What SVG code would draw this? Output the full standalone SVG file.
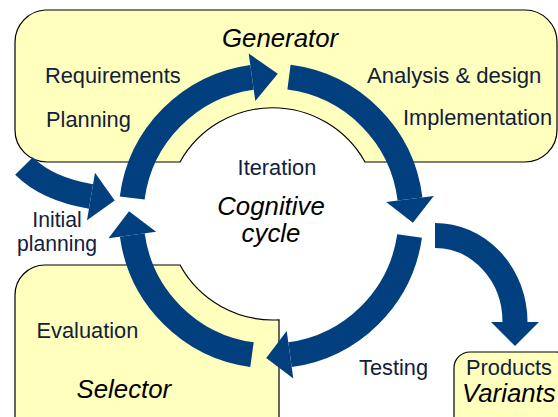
<svg xmlns="http://www.w3.org/2000/svg" width="558" height="417" viewBox="0 0 558 417">
<style>
.box{fill:#FFFFBE;stroke:#000;stroke-width:1.2}
.shaft{fill:none;stroke:#023F7F;stroke-width:25;stroke-linecap:butt}
.head{fill:#023F7F}
.lbl{font-family:"Liberation Sans",Arial,sans-serif;font-size:21.8px;fill:#12203A}
.ttl{font-family:"Liberation Sans",Arial,sans-serif;font-size:25.8px;font-style:italic;fill:#000}
</style>
<rect width="558" height="417" fill="#fff"/>
<g id="generator">
<path class="box" d="M45,10 H525 A32,32 0 0 1 557,42 V130 A32,32 0 0 1 525,162 H365 A106,106 0 0 0 180,162 H47 A32,32 0 0 1 15,130 V42 A32,32 0 0 1 45,10 Z"/>
<text class="ttl" x="222" y="46.5">Generator</text>
<text class="lbl" x="45" y="83">Requirements</text>
<text class="lbl" x="46" y="126.5">Planning</text>
<text class="lbl" x="367" y="82.5" style="font-size:22.1px">Analysis &amp; design</text>
<text class="lbl" x="403" y="125">Implementation</text>
</g>
<g id="selector">
<path class="box" d="M45,265 H180 A106,106 0 0 0 279,319.8 V430 H15 V295 A30,30 0 0 1 45,265 Z"/>
<text class="lbl" x="36.5" y="338">Evaluation</text>
<text class="ttl" x="76.5" y="398">Selector</text>
</g>
<g id="products">
<rect class="box" x="454" y="352" width="118" height="80" rx="16" ry="16"/>
<text class="lbl" x="466" y="375">Products</text>
<text class="ttl" x="462" y="402">Variants</text>
</g>
<g id="cycle">
<text class="lbl" x="277" y="175" text-anchor="middle">Iteration</text>
<text class="ttl" x="271" text-anchor="middle"><tspan x="271" y="215">Cognitive</tspan><tspan x="271" y="241.5">cycle</tspan></text>
</g>
<g id="initial-planning">
<text class="lbl" x="57" y="226.8" text-anchor="middle" style="font-size:21.2px">Initial</text>
<text class="lbl" x="57" y="250.8" text-anchor="middle" style="font-size:21.2px">planning</text>
</g>
<g id="testing">
<text class="lbl" x="359" y="375">Testing</text>
</g>
<g id="connectors">
<path class="shaft" d="M132.2,198 A140,140 0 0 1 252,77.3"/>
<polygon class="head" points="255.3,101.1 277.8,73.8 248.7,53.5"/>
<path class="shaft" d="M289,77.2 A140,140 0 0 1 410,199"/>
<polygon class="head" points="433.8,196.1 412.9,222.8 386.2,201.9"/>
<path class="shaft" d="M409.6,236 A140,140 0 0 1 290,354.7"/>
<polygon class="head" points="293.3,378.5 266.2,358 286.7,330.9"/>
<path class="shaft" d="M252,354.7 A140,140 0 0 1 132.3,235"/>
<polygon class="head" points="156.1,231.7 129,211.2 108.5,238.3"/>
<path class="shaft" d="M24,166 Q47,189 91,196.5"/>
<polygon class="head" points="95,172.8 114.7,200.5 87,220.2"/>
<path class="shaft" d="M435,235.5 A80,86.5 0 0 1 515,322"/>
<polygon class="head" points="491,322 515,346 539,322"/>
</g>
</svg>
